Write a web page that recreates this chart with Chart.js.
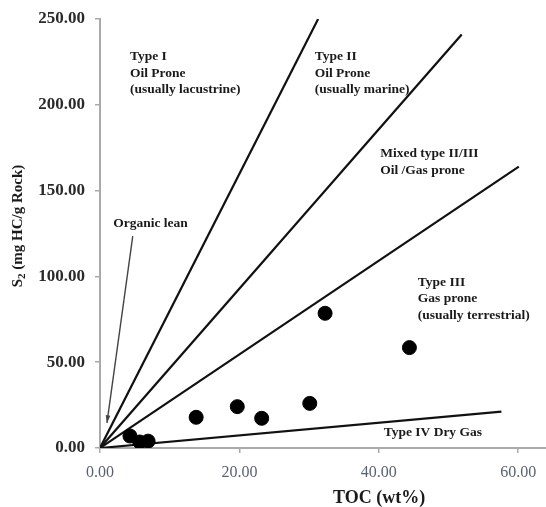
<!DOCTYPE html>
<html>
<head>
<meta charset="utf-8">
<script src="https://cdn.jsdelivr.net/npm/chart.js@4"></script>
<style>
  html, body { margin: 0; padding: 0; background: #fff; }
  #wrap { width: 546px; height: 507px; }
</style>
</head>
<body>
<div id="wrap"><canvas id="kerogen"></canvas></div>
<script>
// === DATA ===
const tocValues = [4.3, 5.7, 6.9, 13.8, 19.7, 23.2, 30.1, 32.3, 44.4];
const s2Values = [7.0, 3.5, 4.0, 17.9, 24.1, 17.3, 26.0, 78.5, 58.5];

// boundary lines, all starting at the origin
const lineNames = ["Type I", "Type II", "Mixed II/III", "Type IV"];
const lineEndToc = [31.3, 51.9, 60.1, 57.6];
const lineEndS2 = [250, 241, 164, 21.2];

const xTickValues = [0, 20, 40, 60];
const yTickValues = [0, 50, 100, 150, 200, 250];

// zone labels (text only)
const zoneLabels = [
  ["Type I", "Oil Prone", "(usually lacustrine)"],
  ["Type II", "Oil Prone", "(usually marine)"],
  ["Mixed type II/III", "Oil /Gas prone"],
  ["Type III", "Gas prone", "(usually terrestrial)"],
  ["Type IV Dry Gas"],
  ["Organic lean"]
];
// where each label sits, in data units (toc, s2 of first line)
const zoneLabelToc = [4.3, 30.8, 40.2, 45.6, 40.7, 1.9];
const zoneLabelS2 = [228, 228, 171.5, 96.7, 9, 131];

// the "organic lean" arrow
const arrowToc = [4.7, 1.0];
const arrowS2 = [123.5, 14.6];

// === CHART ===
const serif = "'Liberation Serif', 'DejaVu Serif', serif";

const lineSets = lineNames.map((name, i) => ({
  type: "line",
  label: name,
  data: [{ x: 0, y: 0 }, { x: lineEndToc[i], y: lineEndS2[i] }],
  borderColor: "#111",
  borderWidth: 2.2,
  pointRadius: 0,
  fill: false,
  order: 2
}));

const samples = {
  type: "scatter",
  label: "Samples",
  data: tocValues.map((t, i) => ({ x: t, y: s2Values[i] })),
  backgroundColor: "#000",
  borderColor: "#000",
  pointRadius: 7,
  order: 1
};

// draws titles, zone texts and the arrow with the chart scales
const extras = {
  id: "extras",
  afterDraw(chart) {
    const ctx = chart.ctx;
    const xs = chart.scales.x, ys = chart.scales.y;
    ctx.save();
    ctx.fillStyle = "#1a1a1a";
    ctx.textBaseline = "middle";
    ctx.textAlign = "left";
    ctx.font = "bold 13.5px " + serif;
    zoneLabels.forEach((lines, i) => {
      const px = xs.getPixelForValue(zoneLabelToc[i]);
      const py = ys.getPixelForValue(zoneLabelS2[i]);
      lines.forEach((t, j) => ctx.fillText(t, px, py + j * 16.5));
    });

    // arrow
    const ax1 = xs.getPixelForValue(arrowToc[0]), ay1 = ys.getPixelForValue(arrowS2[0]);
    const ax2 = xs.getPixelForValue(arrowToc[1]), ay2 = ys.getPixelForValue(arrowS2[1]);
    ctx.strokeStyle = "#444";
    ctx.lineWidth = 1.4;
    ctx.beginPath();
    ctx.moveTo(ax1, ay1);
    ctx.lineTo(ax2, ay2);
    ctx.stroke();
    const ang = Math.atan2(ay2 - ay1, ax2 - ax1);
    ctx.fillStyle = "#444";
    ctx.beginPath();
    ctx.moveTo(ax2, ay2);
    ctx.lineTo(ax2 - 8 * Math.cos(ang - 0.3), ay2 - 8 * Math.sin(ang - 0.3));
    ctx.lineTo(ax2 - 8 * Math.cos(ang + 0.3), ay2 - 8 * Math.sin(ang + 0.3));
    ctx.closePath();
    ctx.fill();

    // x title
    ctx.fillStyle = "#1a1a1a";
    ctx.font = "bold 18px " + serif;
    ctx.textAlign = "left";
    ctx.fillText("TOC (wt%)", 333, 498);

    // y title with subscript
    ctx.translate(18, 226);
    ctx.rotate(-Math.PI / 2);
    const big = "bold 15px " + serif, small = "bold 11px " + serif;
    ctx.font = big;
    const wS = ctx.measureText("S").width;
    const rest = " (mg HC/g Rock)";
    const wR = ctx.measureText(rest).width;
    ctx.font = small;
    const w2 = ctx.measureText("2").width;
    let x0 = -(wS + w2 + wR) / 2;
    ctx.font = big;
    ctx.fillText("S", x0, 0);
    ctx.font = small;
    ctx.fillText("2", x0 + wS, 4);
    ctx.font = big;
    ctx.fillText(rest, x0 + wS + w2, 0);
    ctx.restore();
  }
};

new Chart(document.getElementById("kerogen"), {
  type: "scatter",
  data: { datasets: [...lineSets, samples] },
  options: {
    responsive: true,
    maintainAspectRatio: false,
    animation: false,
    layout: { autoPadding: false, padding: { top: 19, right: 0, left: 0, bottom: 0 } },
    plugins: { legend: { display: false }, tooltip: { enabled: false } },
    scales: {
      x: {
        type: "linear",
        min: 0,
        max: 64,
        afterBuildTicks: s => { s.ticks = xTickValues.map(v => ({ value: v })); },
        afterFit: s => { s.height = 59; s.paddingLeft = 0; s.paddingRight = 0; },
        grid: { drawOnChartArea: false, drawTicks: true, tickLength: 5, color: "#aaa", lineWidth: 1.5 },
        border: { color: "#aaa", width: 2 },
        ticks: {
          padding: 10,
          color: "#5a6170",
          font: { family: serif, size: 16 },
          callback: v => v.toFixed(2)
        }
      },
      y: {
        type: "linear",
        min: 0,
        max: 250,
        afterBuildTicks: s => { s.ticks = yTickValues.map(v => ({ value: v })); },
        afterFit: s => { s.width = 100; s.paddingTop = 0; s.paddingBottom = 0; },
        grid: { drawOnChartArea: false, drawTicks: true, tickLength: 5, color: "#aaa", lineWidth: 1.5 },
        border: { color: "#aaa", width: 2 },
        ticks: {
          padding: 10,
          color: "#2a2a2a",
          font: { family: serif, size: 17, weight: "bold" },
          callback: v => v.toFixed(2)
        }
      }
    }
  },
  plugins: [extras]
});
</script>
</body>
</html>
